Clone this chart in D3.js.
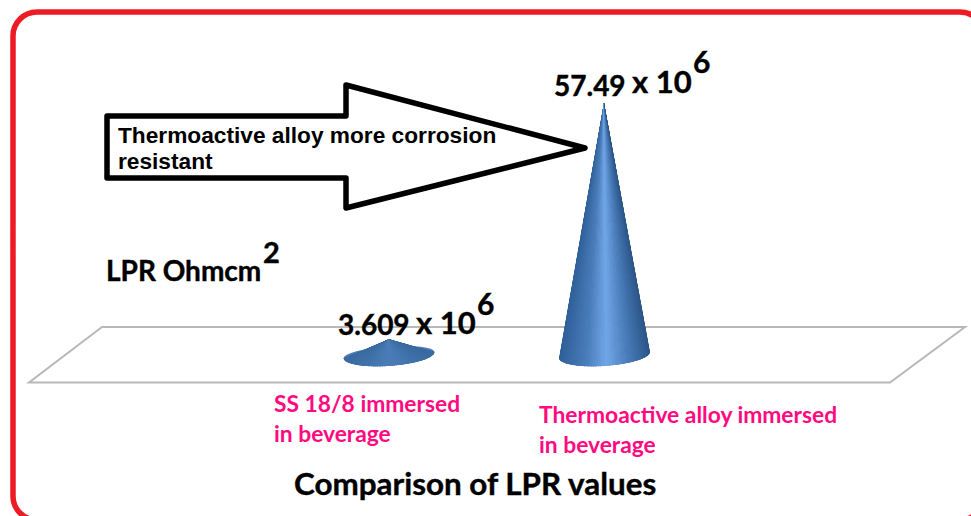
<!DOCTYPE html>
<html>
<head>
	<meta charset="utf-8">
	<script src="https://d3js.org/d3.v7.min.js"></script>
	<style>
		html, body { margin: 0; padding: 0; background: #fff; overflow: hidden; }
		svg { display: block; }
		.lbl { font-family: Lato, "Open Sans", sans-serif; font-weight: 700; fill: #000; stroke: #000; stroke-width: 0.4px; }
		.cat { font-family: Lato, "Open Sans", sans-serif; font-weight: 700; fill: #ff0a80; font-size: 22.8px; }
		.note { font-family: "Liberation Sans", Arial, sans-serif; font-weight: 700; fill: #000; font-size: 22.7px; }
	</style>
</head>
<body>
	<div class="chart"></div>
	<script>
		var w = 971, h = 516;

		// values (x 10^6 ohm cm2)
		var categories = ["SS 18/8", "Thermoactive"];
		var values = [3.609, 57.49];
		var valueLabels = ["3.609", "57.49"];
		var categoryLines = [
			["SS 18/8 immersed", "in beverage"],
			["Thermoactive alloy immersed", "in beverage"]
		];
		var noteLines = ["Thermoactive alloy more corrosion", "resistant"];

		var svg = d3.select(".chart")
			.append("svg")
			.attr("width", w)
			.attr("height", h);
		var defs = svg.append("defs");

		// frame, runs off the right and bottom of the picture
		svg.append("rect")
			.attr("x", 13).attr("y", 12)
			.attr("width", 971).attr("height", 508)
			.attr("rx", 24).attr("ry", 24)
			.attr("fill", "#fff")
			.attr("stroke", "#ed1c24")
			.attr("stroke-width", 5.5);

		var x = d3.scalePoint().domain(categories).range([389, 604]);
		var y = d3.scaleLinear().domain([0, 57.49]).range([355, 103]);
		var line = d3.line();

		// floor of the 3d plot
		svg.append("path")
			.attr("d", line([[102, 327], [965, 327], [890, 382.5], [29, 382.5]]) + "Z")
			.attr("fill", "#fff")
			.attr("stroke", "#b8b8b8")
			.attr("stroke-width", 2);

		// cones: shading runs round the base so it narrows to the tip
		var rx = 45.5, ry = 11, tilt = -4 * Math.PI / 180;
		var shadeBig = d3.scaleLinear()
			.domain([0, 0.3, 0.52, 0.75, 1])
			.range(["#2f5f98", "#4a7dbb", "#70a6e8", "#4a7dbb", "#2b5688"]);
		var shadeSmall = d3.scaleLinear()
			.domain([0, 0.5, 1])
			.range(["#38699f", "#4a7cb8", "#38699f"]);
		var steps = d3.range(0, 1, 1 / 60);

		function basePoint(cx, u) {
			var a = Math.PI * (1 - u);
			var ex = rx * Math.cos(a), ey = ry * Math.sin(a);
			return [cx + ex * Math.cos(tilt) - ey * Math.sin(tilt), y(0) + ex * Math.sin(tilt) + ey * Math.cos(tilt)];
		}

		values.forEach(function(v, i) {
			var cx = x(categories[i]) + (i == 0 ? 0 : 0.5);
			var tip = [x(categories[i]), y(v)];
			var shade = i == 0 ? shadeSmall : shadeBig;
			var facetShade = function(u) { return shade((1 - Math.cos(Math.PI * (u + 1 / 120))) / 2); };

			// facets are drawn crisp and clipped, otherwise thin slivers leave moire stripes
			defs.append("clipPath").attr("id", "cone" + i)
				.append("path")
				.attr("d", line([tip].concat(steps.concat([1]).map(function(u) { return basePoint(cx, u); }))) + "Z");

			// slightly flatter than the base so the short cone keeps rounded shoulders
			svg.append("ellipse")
				.attr("rx", rx).attr("ry", ry - 2.5)
				.attr("transform", "translate(" + cx + "," + y(0) + ") rotate(-4)")
				.attr("fill", shade(0.5));
			svg.append("g")
				.attr("clip-path", "url(#cone" + i + ")")
				.selectAll("path")
				.data(steps)
				.enter()
				.append("path")
				.attr("shape-rendering", "crispEdges")
				.attr("d", function(u) {
					return line([tip, basePoint(cx, u), basePoint(cx, u + 1 / 60)]) + "Z";
				})
				.attr("fill", facetShade)
				.attr("stroke", facetShade)
				.attr("stroke-width", 1);
		});

		// arrow
		svg.append("path")
			.attr("d", line([[107, 116], [346, 116], [346, 85], [585, 148], [346, 208], [346, 178], [107, 178]]) + "Z")
			.attr("fill", "none")
			.attr("stroke", "#000")
			.attr("stroke-width", 5.5)
			.attr("stroke-linejoin", "round");

		svg.selectAll("text.note")
			.data(noteLines)
			.enter()
			.append("text")
			.attr("class", "note")
			.attr("x", 118)
			.attr("y", function(d, i) { return 143 + i * 26; })
			.text(function(d) { return d; });

		// value labels, 10^6 pieces positioned from the cone tops
		var labelDx = [-51, -50], labelDy = [-4, -7];
		var tenDy = [-1, -3], sixDy = [-20, -23];
		valueLabels.forEach(function(t, i) {
			var px = x(categories[i]) + labelDx[i], py = y(values[i]) + labelDy[i];
			svg.append("text").attr("class", "lbl").attr("x", px).attr("y", py)
				.style("font-size", "28px").text(t);
			svg.append("text").attr("class", "lbl").attr("x", px + 78).attr("y", py + tenDy[i])
				.style("font-size", "31px").text("x 10");
			svg.append("text").attr("class", "lbl").attr("x", px + 139).attr("y", py + sixDy[i])
				.style("font-size", "30px").text("6");
		});

		svg.append("text").attr("class", "lbl").attr("x", 106).attr("y", 281)
			.style("font-size", "28px").text("LPR Ohmcm");
		svg.append("text").attr("class", "lbl").attr("x", 263).attr("y", 263)
			.style("font-size", "29px").text("2");

		// category labels
		var catX = [274, 539], catY = [412, 423];
		categoryLines.forEach(function(lines, i) {
			lines.forEach(function(t, j) {
				svg.append("text").attr("class", "cat")
					.attr("x", catX[i]).attr("y", catY[i] + j * 30).text(t);
			});
		});

		svg.append("text").attr("class", "lbl").attr("x", 294).attr("y", 495)
			.style("font-size", "31.4px").text("Comparison of LPR values");
	</script>
</body>
</html>
